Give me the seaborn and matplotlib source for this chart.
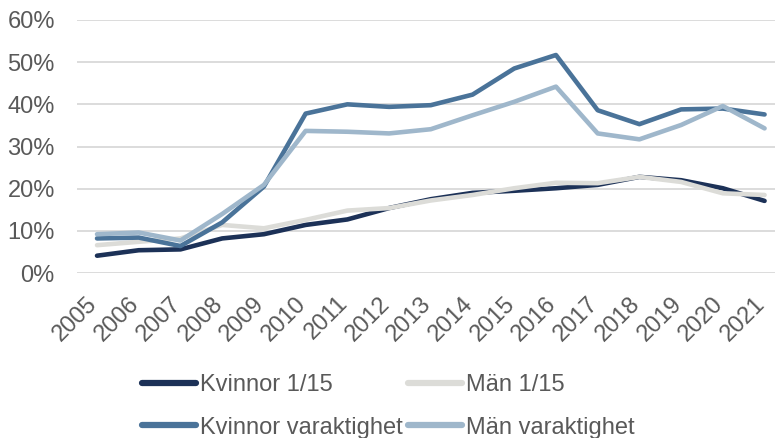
import numpy as np
import pandas as pd
import matplotlib
matplotlib.use("Agg")
import matplotlib.pyplot as plt
import matplotlib.transforms as mtransforms
import seaborn as sns
from matplotlib.ticker import PercentFormatter

# Data (andel i procent), avläst från originalet
years = list(range(2005, 2022))
kvinnor_115 = [4.1, 5.4, 5.6, 8.2, 9.2, 11.4, 12.7, 15.4, 17.5, 19.0, 19.5, 20.1, 20.9, 22.8, 22.0, 20.1, 17.1]
man_115 = [6.6, 7.4, 8.2, 11.4, 10.6, 12.6, 14.8, 15.4, 17.2, 18.5, 20.1, 21.4, 21.3, 22.8, 21.6, 18.9, 18.5]
kvinnor_var = [8.2, 8.4, 6.4, 12.0, 20.5, 37.8, 40.0, 39.4, 39.8, 42.3, 48.5, 51.7, 38.6, 35.3, 38.8, 39.0, 37.6]
man_var = [9.2, 9.6, 7.7, 14.0, 20.9, 33.7, 33.5, 33.1, 34.1, 37.4, 40.6, 44.2, 33.1, 31.7, 35.1, 39.6, 34.3]

series_names = ["Kvinnor 1/15", "Män 1/15", "Kvinnor varaktighet", "Män varaktighet"]
colors = ["#1c3157", "#dcdcd8", "#4a7399", "#9fb7cb"]

df = pd.DataFrame({"År": years, series_names[0]: kvinnor_115, series_names[1]: man_115,
                   series_names[2]: kvinnor_var, series_names[3]: man_var})
long = df.melt(id_vars="År", var_name="Serie", value_name="Andel")

sns.set_style("white")
plt.rcParams["font.family"] = ["Liberation Sans", "DejaVu Sans"]
fs = 17

fig = plt.figure(figsize=(7.76, 4.38), dpi=100)
ax = fig.add_axes([77 / 776, 1 - 273 / 438, 698 / 776, 253 / 438])

sns.lineplot(data=long, x="År", y="Andel", hue="Serie", hue_order=series_names,
             palette=dict(zip(series_names, colors)), linewidth=3.3,
             ax=ax, legend=False)
for ln in ax.lines:
    ln.set_solid_capstyle("round")

ax.set_ylim(0, 60)
ax.set_xlim(2005 - 0.48, 2021 + 0.25)
ax.set_yticks(np.arange(0, 61, 10))
ax.yaxis.set_major_formatter(PercentFormatter(decimals=0))
ax.set_xticks(years)
ax.set_xticklabels([str(y) for y in years], rotation=45, ha="right")
ax.tick_params(axis="both", length=0, labelsize=fs, labelcolor="#595959")
ax.tick_params(axis="x", pad=14)
ax.tick_params(axis="y", pad=16)
shift = mtransforms.ScaledTranslation(5 / 100, 0, fig.dpi_scale_trans)
for lbl in ax.get_xticklabels():
    lbl.set_transform(lbl.get_transform() + shift)
ax.set_xlabel("")
ax.set_ylabel("")
ax.grid(axis="y", color="#d9d9d9", linewidth=1.3)
ax.set_axisbelow(True)
for s in ax.spines.values():
    s.set_visible(False)

# legend radvis: kolumnvis fyllning -> ordna om
leg_order = [0, 2, 1, 3]
handles = [plt.Line2D([], [], color=colors[i], linewidth=4.5, solid_capstyle="round") for i in leg_order]
labels = [series_names[i] for i in leg_order]
fig.legend(handles, labels, loc="upper left", bbox_to_anchor=(130 / 776, 1 - 362 / 438),
           ncol=2, frameon=False, fontsize=fs, labelcolor="#595959", borderpad=0,
           handlelength=2.3, handletextpad=0.17, columnspacing=0.2, labelspacing=0.88)

fig.savefig("out.png", dpi=100)
